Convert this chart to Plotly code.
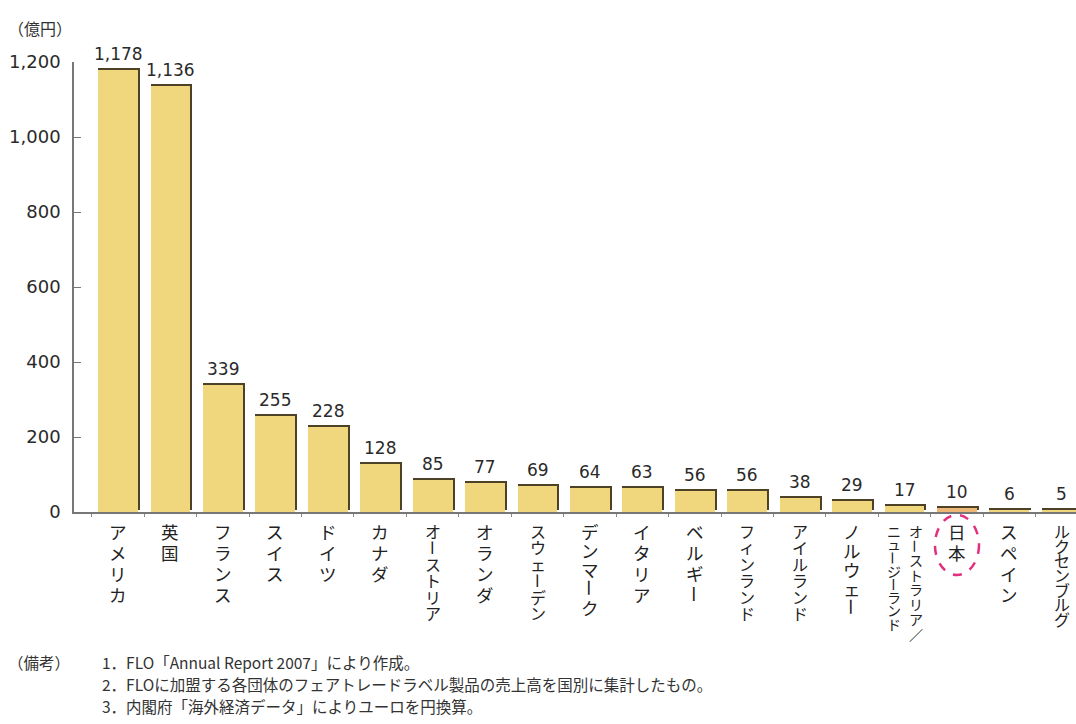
import plotly.graph_objects as go

# 国別フェアトレードラベル製品の売上高（億円）
countries = ["アメリカ", "英国", "フランス", "スイス", "ドイツ", "カナダ", "オーストリア",
             "オランダ", "スウェーデン", "デンマーク", "イタリア", "ベルギー", "フィンランド",
             "アイルランド", "ノルウェー", "オーストラリア／ニュージーランド", "日本",
             "スペイン", "ルクセンブルグ"]
sales = [1178, 1136, 339, 255, 228, 128, 85, 77, 69, 64, 63, 56, 56, 38, 29, 17, 10, 6, 5]
y_ticks = [0, 200, 400, 600, 800, 1000, 1200]
unit_label = "（億円）"
notes_head = "（備考）"
notes = ["1．FLO「Annual Report 2007」により作成。",
         "2．FLOに加盟する各団体のフェアトレードラベル製品の売上高を国別に集計したもの。",
         "3．内閣府「海外経済データ」によりユーロを円換算。"]
highlight = "日本"

JP = "Noto Sans CJK JP"
NUM = "DejaVu Sans"
FILL = "#F0D67C"
FILL_HL = "#EDB877"
EDGE = "#4d4128"
TEXT = "#2a2a2a"

# plot-area geometry (pixels)
W, H = 1076, 724
PLOT_TOP, PLOT_BOTTOM, PLOT_LEFT = 62, 512, 74
px_per_unit = (PLOT_BOTTOM - PLOT_TOP) / 1200      # vertical pixels per 億円
px_per_cat = 52.4                                   # horizontal pixels per category
shadow = 2 / px_per_unit          # 2px dark edge above each bar
bar_w = 0.76
edge_w = 2 / px_per_cat           # 2px dark edge on the right of each bar
LINE_SPACING = 1.3                # plotly's multi-line spacing (em of the base font)

xs = list(range(len(countries)))
fills = [FILL_HL if c == highlight else FILL for c in countries]


def paper_x(px):
    return (px - PLOT_LEFT) / (W - PLOT_LEFT)


def paper_y(py):
    return (PLOT_BOTTOM - py) / (PLOT_BOTTOM - PLOT_TOP)


fig = go.Figure()
# dark edge drawn behind the bar body (shows on top and right side)
fig.add_trace(go.Bar(
    x=xs, y=sales, base=shadow, width=bar_w + edge_w, offset=-bar_w / 2,
    marker=dict(color=EDGE, line=dict(width=0)), hoverinfo="skip", showlegend=False))
# bar body
fig.add_trace(go.Bar(
    x=xs, y=sales, width=bar_w, offset=-bar_w / 2,
    marker=dict(color=fills, line=dict(width=0)), showlegend=False,
    hovertext=countries, hoverinfo="text+y"))

# value labels above the bars
for i, v in zip(xs, sales):
    fig.add_annotation(x=i, y=v, text=f"{v:,}", showarrow=False,
                       xanchor="center", yanchor="bottom", yshift=4,
                       font=dict(family=NUM, size=17, color=TEXT))

# vertical (tategaki) category labels
FIRST_PX = 19                     # first character centre below the axis line


def place_column(name, xc, span_px, size):
    """Stack the characters of one column; runs of ordinary characters share one
    text block, the long vowel mark is turned upright on its own."""
    n = len(name)
    step = span_px / (n - 1) if n > 1 else 21
    runs, cur = [], []
    for k, ch in enumerate(name):
        if ch == "ー":
            if cur:
                runs.append(cur)
                cur = []
            runs.append([(k, ch)])
        else:
            cur.append((k, ch))
    if cur:
        runs.append(cur)
    for run in runs:
        k0, k1 = run[0][0], run[-1][0]
        yc = PLOT_BOTTOM + FIRST_PX + (k0 + k1) / 2 * step
        if run[0][1] == "ー":
            fig.add_annotation(
                x=xc, xref="x", y=paper_y(yc), yref="paper", text="ー",
                textangle=90, showarrow=False, xanchor="center", yanchor="middle",
                borderpad=0, font=dict(family=JP, size=size, color="#222"))
        else:
            body = "<br>".join(f'<span style="font-size:{size}px">{c}</span>'
                               for _, c in run)
            fig.add_annotation(
                x=xc, xref="x", y=paper_y(yc), yref="paper", text=body,
                showarrow=False, xanchor="center", yanchor="middle", borderpad=0,
                font=dict(family=JP, size=step / LINE_SPACING, color="#222"))


for i, name in zip(xs, countries):
    if "／" in name:
        right, left = name.split("／")
        # vertical writing reads the right column first
        place_column(right + "／", i + 0.21, 103, 14)
        place_column(left, i - 0.21, 93, 14)
    else:
        n = len(name)
        span = min(21 * (n - 1), 82 + 6 * (n - 6))
        size = 17.5 if n <= 5 else 16
        place_column(name, i, span, size)

fig.update_layout(
    width=W, height=H, autosize=False,
    margin=dict(l=PLOT_LEFT, r=0, t=PLOT_TOP, b=H - PLOT_BOTTOM),
    paper_bgcolor="white", plot_bgcolor="white",
    barmode="overlay", bargap=0,
    font=dict(family=JP, color=TEXT),
)

fig.update_xaxes(
    range=[-0.84, 18.27],
    tickmode="array", tickvals=[i - 0.5 for i in xs] + [len(xs) - 0.5],
    showticklabels=False, ticks="outside", ticklen=3, tickcolor="#888",
    showline=True, linecolor="#777", linewidth=1.5, showgrid=False, zeroline=False,
)
fig.update_yaxes(
    range=[0, 1200], tickvals=y_ticks, ticktext=[f"{v:,}" for v in y_ticks],
    ticks="inside", ticklen=7, tickcolor="#777", tickwidth=1.2,
    ticklabelstandoff=8,
    tickfont=dict(family=NUM, size=18, color=TEXT),
    showline=True, linecolor="#777", linewidth=1.5, showgrid=False, zeroline=False,
)

# unit label
fig.add_annotation(text=unit_label, xref="paper", yref="paper",
                   x=paper_x(6), y=paper_y(28), xanchor="left", yanchor="middle",
                   showarrow=False, font=dict(family=JP, size=16, color="#333"))

# dashed ring around the highlighted country label
hi = countries.index(highlight)
fig.add_shape(type="circle", xref="x", yref="paper",
              x0=hi - 0.42, x1=hi + 0.42,
              y0=paper_y(575), y1=paper_y(515),
              line=dict(color="#E0307F", width=2.5, dash="dash"))

# notes
fig.add_annotation(text=notes_head, xref="paper", yref="paper",
                   x=paper_x(6), y=paper_y(662), xanchor="left", yanchor="middle",
                   showarrow=False, font=dict(family=JP, size=15.5, color="#333"))
for i, line in enumerate(notes):
    fig.add_annotation(text=line, xref="paper", yref="paper",
                       x=paper_x(100), y=paper_y(662 + 22 * i),
                       xanchor="left", yanchor="middle",
                       showarrow=False, font=dict(family=JP, size=15.5, color="#333"))

fig.write_html("out.html")
